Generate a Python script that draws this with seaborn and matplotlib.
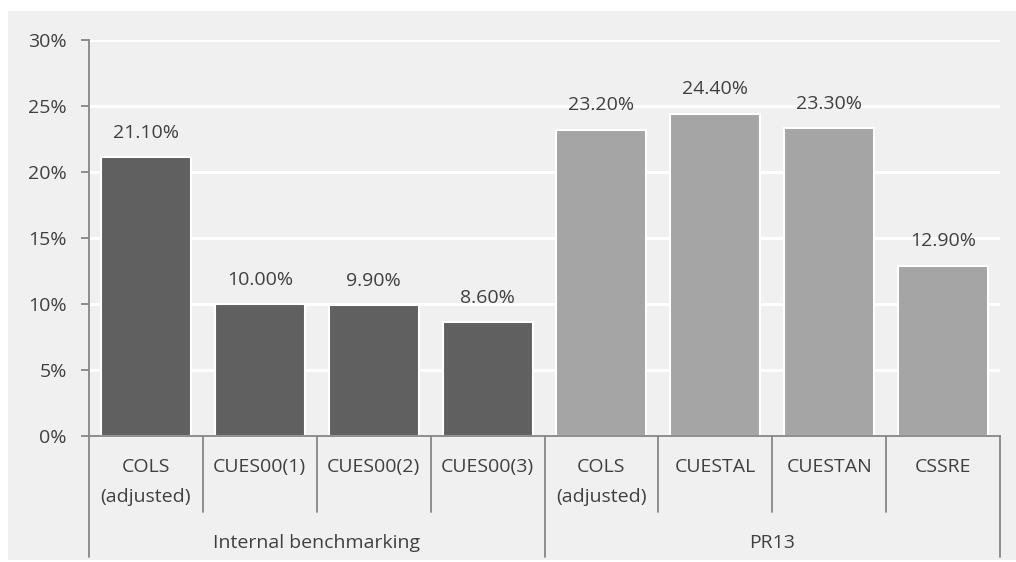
import matplotlib.pyplot as plt
import seaborn as sns
import pandas as pd
from matplotlib.patches import Rectangle
from matplotlib.ticker import PercentFormatter

# data
labels = ["COLS\n(adjusted)", "CUES00(1)", "CUES00(2)", "CUES00(3)",
          "COLS\n(adjusted)", "CUESTAL", "CUESTAN", "CSSRE"]
groups = ["Internal benchmarking"] * 4 + ["PR13"] * 4
values = [21.1, 10.0, 9.9, 8.6, 23.2, 24.4, 23.3, 12.9]
group_names = ["Internal benchmarking", "PR13"]
group_colors = {"Internal benchmarking": "#606060", "PR13": "#a5a5a5"}

df = pd.DataFrame({
    "slot": [str(i) for i in range(len(labels))],
    "label": labels,
    "group": groups,
    "value": values,
})

sns.set_style("white")
plt.rcParams["font.family"] = ["Open Sans", "DejaVu Sans"]
FS = 14

W, H = 1016, 562
fig = plt.figure(figsize=(W / 100, H / 100), dpi=100, facecolor="white")
fig.patches.append(Rectangle((8 / W, 2 / H), 1 - 8 / W, 1 - 13 / H,
                             transform=fig.transFigure, facecolor="#f0f0f0",
                             edgecolor="none", zorder=-10))

ax_l, ax_r, ax_t, ax_b = 89, 1000, 40, 436
ax = fig.add_axes([ax_l / W, 1 - ax_b / H, (ax_r - ax_l) / W, (ax_b - ax_t) / H])
ax.set_facecolor("#f0f0f0")
ax_h = ax_b - ax_t

sns.barplot(data=df, x="slot", y="value", hue="group", palette=group_colors,
            order=list(df["slot"]), hue_order=group_names, dodge=False,
            width=0.79, edgecolor="white", linewidth=1.5, legend=False,
            saturation=1, ax=ax, zorder=3)

ax.set_xlim(-0.5, len(labels) - 0.5)
ax.set_ylim(0, 30)
ax.set_yticks(range(0, 31, 5))
ax.yaxis.set_major_formatter(PercentFormatter(xmax=100, decimals=0))
ax.yaxis.grid(True, color="white", linewidth=2.2, zorder=0)
ax.set_axisbelow(True)
ax.set_xticks([])
ax.set_xlabel("")
ax.set_ylabel("")

for side in ["top", "right"]:
    ax.spines[side].set_visible(False)
for side in ["left", "bottom"]:
    ax.spines[side].set_color("#868686")
    ax.spines[side].set_linewidth(1.3)
    ax.spines[side].set_zorder(5)

ax.tick_params(axis="y", direction="out", length=6, width=1.3, color="#868686",
               labelsize=FS, labelcolor="#404040", pad=10, left=True)

# value labels
for i, v in enumerate(df["value"]):
    ax.annotate(f"{v:.2f}%", (i, v), xytext=(0, 14), textcoords="offset points",
                ha="center", va="baseline", fontsize=FS, color="#404040")

# category labels, two-level axis
xt = ax.get_xaxis_transform()
line_col = "#868686"


def px(dy):
    return -dy / ax_h


for i, lab in enumerate(df["label"]):
    for j, part in enumerate(lab.split("\n")):
        ax.text(i, px(31 + 30 * j), part, transform=xt, ha="center", va="center",
                fontsize=FS, color="#404040")

n = len(labels)
for k in range(n + 1):
    x = k - 0.5
    outer = k in (0, 4, n)
    ax.plot([x, x], [0, px(121 if outer else 76)], transform=xt, color=line_col,
            linewidth=1.3, clip_on=False, zorder=5)

for g, name in enumerate(group_names):
    idx = [i for i, gg in enumerate(df["group"]) if gg == name]
    ax.text((idx[0] + idx[-1]) / 2, px(107), name, transform=xt, ha="center",
            va="center", fontsize=FS, color="#404040")

fig.savefig("out.png", dpi=100, facecolor="white")
